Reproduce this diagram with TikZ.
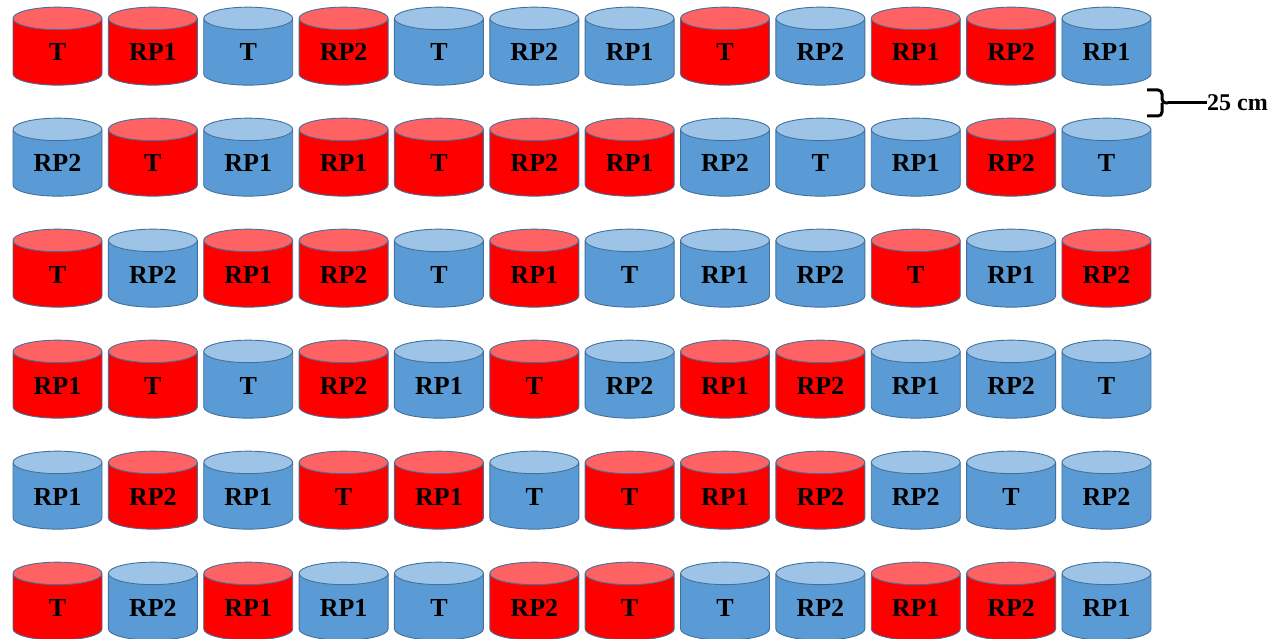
\documentclass[tikz,border=0pt]{standalone}
\usepackage{fontspec}
\setmainfont{Liberation Serif}
\usetikzlibrary{shapes.geometric}

\definecolor{redbody}{HTML}{FF0000}
\definecolor{redtop}{HTML}{FF6262}
\definecolor{bluebody}{HTML}{5B9BD5}
\definecolor{bluetop}{HTML}{9DC3E6}
\definecolor{canline}{HTML}{41719C}

\begin{document}
\begin{tikzpicture}[
        x=1pt, y=-1pt,
        can/.style = {cylinder, shape border rotate=90, aspect=0.45, draw=canline, line width=0.9pt,
                      minimum width=89pt, minimum height=78pt, inner sep=0pt, cylinder uses custom fill,
                      font=\bfseries\fontsize{26}{26}\selectfont, text width=50pt, align=center,
                      text height=18pt, text depth=0pt},
        rc/.style  = {can, cylinder body fill=redbody, cylinder end fill=redtop},
        bc/.style  = {can, cylinder body fill=bluebody, cylinder end fill=bluetop},
        brc/.style = {draw=black, line width=3pt, rounded corners=4pt},
        lbl/.style = {font=\bfseries\fontsize{24}{24}\selectfont, anchor=west, inner sep=0pt}
    ]
        \useasboundingbox (0,0) rectangle (1274,639);

        % six rows of twelve pots
        \foreach \row [count=\j] in {
            {T/rc, RP1/rc, T/bc, RP2/rc, T/bc, RP2/bc, RP1/bc, T/rc, RP2/bc, RP1/rc, RP2/rc, RP1/bc},
            {RP2/bc, T/rc, RP1/bc, RP1/rc, T/rc, RP2/rc, RP1/rc, RP2/bc, T/bc, RP1/bc, RP2/rc, T/bc},
            {T/rc, RP2/bc, RP1/rc, RP2/rc, T/bc, RP1/rc, T/bc, RP1/bc, RP2/bc, T/rc, RP1/bc, RP2/rc},
            {RP1/rc, T/rc, T/bc, RP2/rc, RP1/bc, T/rc, RP2/bc, RP1/rc, RP2/rc, RP1/bc, RP2/bc, T/bc},
            {RP1/bc, RP2/rc, RP1/bc, T/rc, RP1/rc, T/bc, T/rc, RP1/rc, RP2/rc, RP2/bc, T/bc, RP2/bc},
            {T/rc, RP2/bc, RP1/rc, RP1/bc, T/bc, RP2/rc, T/rc, T/bc, RP2/bc, RP1/rc, RP2/rc, RP1/bc}}
            \foreach \txt/\sty [count=\i] in \row
                \node[\sty] (p\j-\i) at ({57.5+95.36*(\i-1)}, {52+111*(\j-1)}) {\txt};

        % spacing between rows
        \coordinate (tip) at (1168,103);
        \draw[brc] (1147,90) -- (1162,90) -- (1162,103) -- (tip);
        \draw[brc] (1147,116) -- (1162,116) -- (1162,103);
        \node[lbl] (dist) at (1207,103) {25 cm};
        \draw[line width=3pt] (tip) -- (dist.west);
    \end{tikzpicture}
\end{document}
